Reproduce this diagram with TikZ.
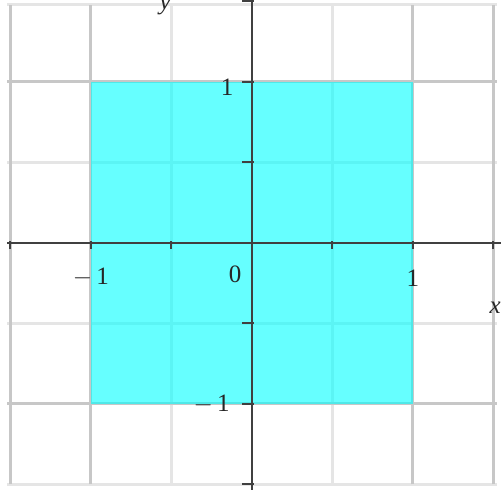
\documentclass[tikz,border=0pt]{standalone}
\usepackage{fontspec}
\setmainfont{Liberation Serif}
\definecolor{sqcyan}{RGB}{0,255,255}
\begin{document}
\begin{tikzpicture}[x=161pt,y=161pt,
  gridlight/.style={draw=black!10,line width=3pt},
  griddark/.style={draw=black!22,line width=3pt},
  axisline/.style={draw=black!75,line width=2.8pt},
  tickmark/.style={draw=black!75,line width=2pt},
  lbl/.style={font=\fontsize{25}{28}\selectfont,text=black!85,inner sep=0pt}]
\useasboundingbox (-1.5652,-1.5342) rectangle (1.5466,1.5093);
\fill[white] (-1.5652,-1.5342) rectangle (1.5466,1.5093);
% grid
\foreach \v in {-0.5,0.5}{\draw[gridlight] (\v,-1.5) -- (\v,1.48);}
\foreach \h in {-1.5,-0.5,0.5,1.48}{\draw[gridlight] (-1.52,\h) -- (1.52,\h);}
\foreach \v in {-1.5,-1,1,1.5}{\draw[griddark] (\v,-1.5) -- (\v,1.48);}
\foreach \h in {-1,1}{\draw[griddark] (-1.52,\h) -- (1.52,\h);}
% square
\fill[sqcyan,fill opacity=0.6] (-1,-1) rectangle (1,1);
% axes
\coordinate (xl) at (-1.52,0);
\coordinate (xr) at (1.55,0);
\coordinate (yb) at (0,-1.54);
\coordinate (yt) at (0,1.51);
\draw[axisline] (xl) -- (xr);
\draw[axisline] (yb) -- (yt);
\foreach \t in {-1.5,-1,-0.5,0.5,1,1.5}{
  \draw[tickmark] (\t,0.012) -- (\t,-0.04);
  \draw[tickmark] (-0.06,\t) -- (0.012,\t);}
% labels
\node[lbl] (xm1) at (-1.0,-0.215) {$-\,$1};
\node[lbl] (zero) at (-0.105,-0.195) {0};
\node[lbl] (xp1) at (1.0,-0.22) {1};
\node[lbl] (yp1) at (-0.155,0.97) {1};
\node[lbl] (ym1) at (-0.25,-1.0) {$-\,$1};
\node[lbl,font=\fontsize{25}{28}\selectfont\itshape] (ylab) at (-0.54,1.47) {y};
\node[lbl,font=\fontsize{25}{28}\selectfont\itshape] (xlab) at (1.51,-0.40) {x};
\end{tikzpicture}
\end{document}
